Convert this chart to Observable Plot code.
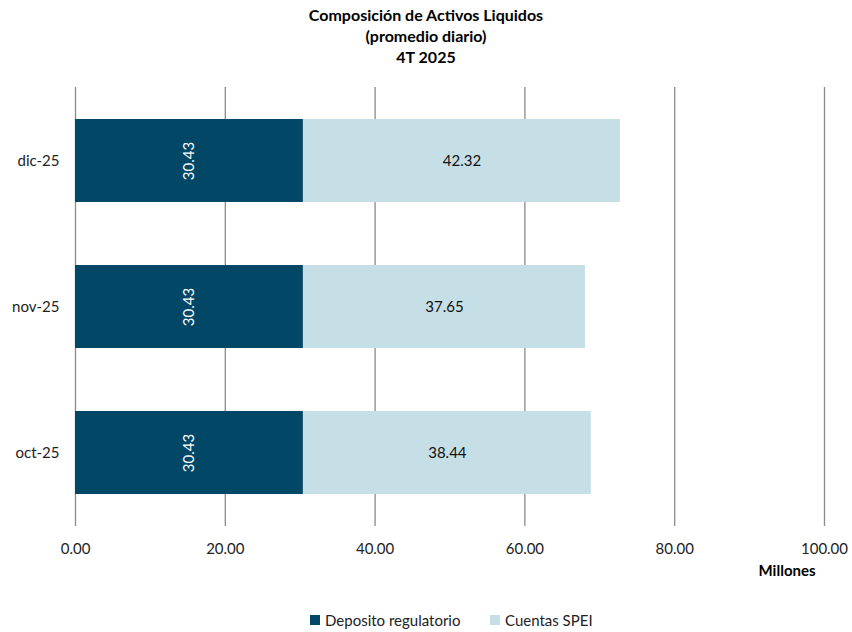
<!DOCTYPE html>
<html>
<head>
<meta charset="utf-8">
<script src="https://cdn.jsdelivr.net/npm/d3@7"></script>
<script src="https://cdn.jsdelivr.net/npm/@observablehq/plot@0.6"></script>
<style>
  body { margin: 0; background: #fff; font-family: Lato, "Open Sans", sans-serif; }
  #title { height: 66px; padding-top: 4px; text-align: center; font-weight: bold; font-size: 16px; line-height: 21px; color: #000; }
  #legend { position: relative; height: 32px; font-size: 15px; color: #222; }
  .item { position: absolute; top: 11px; display: flex; align-items: center; line-height: 18px; }
  .sw { width: 10px; height: 10px; margin-right: 5px; }
</style>
</head>
<body>
<div id="title">Composición de Activos Liquidos<br>(promedio diario)<br>4T 2025</div>
<div id="chart"></div>
<div id="legend"></div>
<script>
const months = ["dic-25", "nov-25", "oct-25"];
const deposito = [30.43, 30.43, 30.43];
const spei = [42.32, 37.65, 38.44];
const seriesNames = ["Deposito regulatorio", "Cuentas SPEI"];
const seriesColors = ["#024766", "#c6dfe6"];
const xTicks = [0, 20, 40, 60, 80, 100];

const rows = [];
months.forEach((m, i) => {
  rows.push({month: m, serie: seriesNames[0], value: deposito[i], start: 0});
  rows.push({month: m, serie: seriesNames[1], value: spei[i], start: deposito[i]});
});

const chart = Plot.plot({
  width: 852,
  height: 530,
  marginLeft: 75,
  marginRight: 28,
  marginTop: 17,
  marginBottom: 74,
  style: {fontFamily: "Lato, 'Open Sans', sans-serif", fontSize: "15px", color: "#222"},
  x: {domain: [0, 100], ticks: xTicks, tickFormat: d => d.toFixed(2), tickSize: 0, tickPadding: 17, label: null},
  y: {domain: months, paddingInner: 0.43, paddingOuter: 0.215, tickSize: 0, tickPadding: 16, label: null},
  color: {domain: seriesNames, range: seriesColors},
  marks: [
    Plot.ruleX(xTicks, {stroke: "#8a8a8a", strokeWidth: 1.3}),
    Plot.barX(rows, {y: "month", x1: "start", x2: d => d.start + d.value, fill: "serie"}),
    Plot.text(rows.filter(d => d.serie === seriesNames[0]), {
      y: "month", x: d => d.start + d.value / 2, text: d => d.value.toFixed(2),
      rotate: -90, fill: "#fff", fontSize: 15
    }),
    Plot.text(rows.filter(d => d.serie === seriesNames[1]), {
      y: "month", x: d => d.start + d.value / 2, text: d => d.value.toFixed(2),
      fill: "#111", fontSize: 15
    }),
    Plot.text(["Millones"], {x: 95, frameAnchor: "bottom", dy: 49, text: d => d, fontWeight: "bold", fontSize: 15, fill: "#000"})
  ]
});
document.getElementById("chart").appendChild(chart);

const legend = document.getElementById("legend");
const lefts = [310, 490];
seriesNames.forEach((s, i) => {
  const it = document.createElement("div");
  it.className = "item";
  it.style.left = lefts[i] + "px";
  it.innerHTML = `<span class="sw" style="background:${seriesColors[i]}"></span><span>${s}</span>`;
  legend.appendChild(it);
});
</script>
</body>
</html>
